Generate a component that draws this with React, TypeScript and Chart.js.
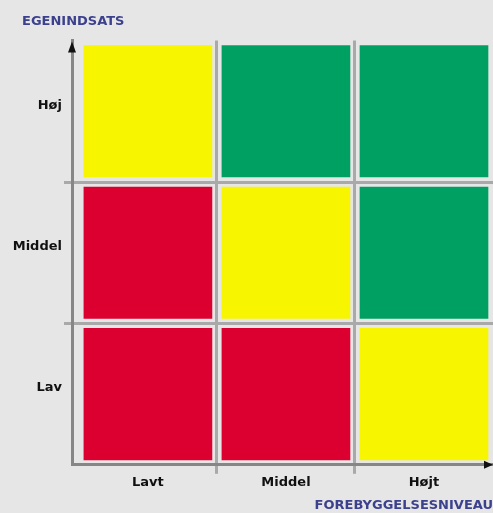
import { useEffect, useRef } from 'react';
import { Chart, registerables } from 'chart.js';

Chart.register(...registerables);

// Kategorier
const xLevels = ['Lavt', 'Middel', 'Højt'];
const yLevels = ['Lav', 'Middel', 'Høj'];
// Midtpunkter for kategorierne på begge akser
const levelCenters = [0.5, 1.5, 2.5];

// Hver celle fylder én enhed
const cellSize = [1, 1, 1];

// Vurdering pr. celle: 0 = rød, 1 = gul, 2 = grøn
const ratingLav = [0, 0, 1];
const ratingMiddel = [0, 1, 2];
const ratingHoej = [1, 2, 2];
const ratingColors = ['#dc0031', '#f7f500', '#00a062'];

const xTitle = 'FOREBYGGELSESNIVEAU';
const yTitle = 'EGENINDSATS';

const bg = '#e6e6e6';
const gridGray = '#a9a9a9';
const axisGray = '#868686';
const titleBlue = '#3c418e';
const transparent = 'rgba(0,0,0,0)';
const font = { family: '"DejaVu Sans", sans-serif', size: 13, weight: 'bold' as const };

const bgPlugin = {
  id: 'bgFill',
  beforeDraw(chart: any) {
    const { ctx, width, height } = chart;
    ctx.save();
    ctx.fillStyle = bg;
    ctx.fillRect(0, 0, width, height);
    ctx.restore();
  },
};

const titleShift = {
  id: 'titleShift',
  afterLayout(chart: any) {
    if (chart.titleBlock) chart.titleBlock.left = 22;
  },
};

const arrowPlugin = {
  id: 'axisArrows',
  afterDraw(chart: any) {
    const { ctx, chartArea } = chart;
    const { left, top, right, bottom } = chartArea;
    ctx.save();
    ctx.fillStyle = '#111';
    ctx.beginPath();
    ctx.moveTo(left, top + 1);
    ctx.lineTo(left - 4, top + 12);
    ctx.lineTo(left + 4, top + 12);
    ctx.closePath();
    ctx.fill();
    ctx.beginPath();
    ctx.moveTo(right, bottom);
    ctx.lineTo(right - 9, bottom - 4);
    ctx.lineTo(right - 9, bottom + 4);
    ctx.closePath();
    ctx.fill();
    ctx.restore();
  },
};

function makeRow(label: string, ratings: number[]) {
  return {
    label,
    data: levelCenters.map((x, i) => ({ x, y: cellSize[i] })),
    backgroundColor: ratings.map((r) => ratingColors[r]),
    borderColor: transparent,
    borderWidth: 5,
    borderSkipped: false,
    barPercentage: 1,
    categoryPercentage: 1,
    stack: 'matrix',
  };
}

const innerLine = (ctx: any) => (ctx.index === 1 || ctx.index === 2 ? gridGray : transparent);

export default function App() {
  const ref = useRef<HTMLCanvasElement>(null);

  useEffect(() => {
    document.body.style.margin = '0';
    document.body.style.background = bg;
    const chart = new Chart(ref.current as HTMLCanvasElement, {
      type: 'bar',
      data: {
        datasets: [
          makeRow(yLevels[0], ratingLav),
          makeRow(yLevels[1], ratingMiddel),
          makeRow(yLevels[2], ratingHoej),
        ] as any,
      },
      options: {
        animation: false,
        responsive: true,
        maintainAspectRatio: false,
        layout: { padding: { left: 8, right: 0, top: 0, bottom: 0 } },
        plugins: {
          legend: { display: false },
          tooltip: { enabled: false },
          title: {
            display: true,
            text: yTitle,
            align: 'start',
            color: titleBlue,
            font,
            padding: { top: 14, bottom: 11 },
          },
        },
        scales: {
          x: {
            type: 'linear',
            stacked: true,
            offset: false,
            min: -0.05,
            max: 3,
            afterBuildTicks: (s: any) => {
              s.ticks = levelCenters.map((v) => ({ value: v }));
            },
            grid: {
              offset: true,
              color: innerLine,
              lineWidth: 3,
              tickLength: 9,
            },
            border: { display: true, color: axisGray, width: 3 },
            ticks: {
              autoSkip: false,
              color: '#111',
              font,
              padding: 1,
              callback: (v: any) => xLevels[Math.floor(Number(v))] ?? '',
            },
            title: {
              display: true,
              text: xTitle,
              align: 'end',
              color: titleBlue,
              font,
              padding: { top: 6, bottom: 0 },
            },
          },
          y: {
            type: 'linear',
            stacked: true,
            offset: false,
            min: 0,
            max: 3,
            afterBuildTicks: (s: any) => {
              s.ticks = levelCenters.map((v) => ({ value: v }));
            },
            afterFit: (s: any) => {
              s.width = 64;
            },
            grid: {
              offset: true,
              color: innerLine,
              lineWidth: 3,
              tickLength: 8,
            },
            border: { display: true, color: axisGray, width: 3 },
            ticks: {
              autoSkip: false,
              color: '#111',
              font,
              padding: 2,
              labelOffset: -6,
              callback: (v: any) => yLevels[Math.floor(Number(v))] ?? '',
            },
          },
        },
      },
      plugins: [bgPlugin, titleShift, arrowPlugin],
    });
    return () => chart.destroy();
  }, []);

  return (
    <div style={{ width: 493, height: 513, position: 'relative' }}>
      <canvas ref={ref} />
    </div>
  );
}
